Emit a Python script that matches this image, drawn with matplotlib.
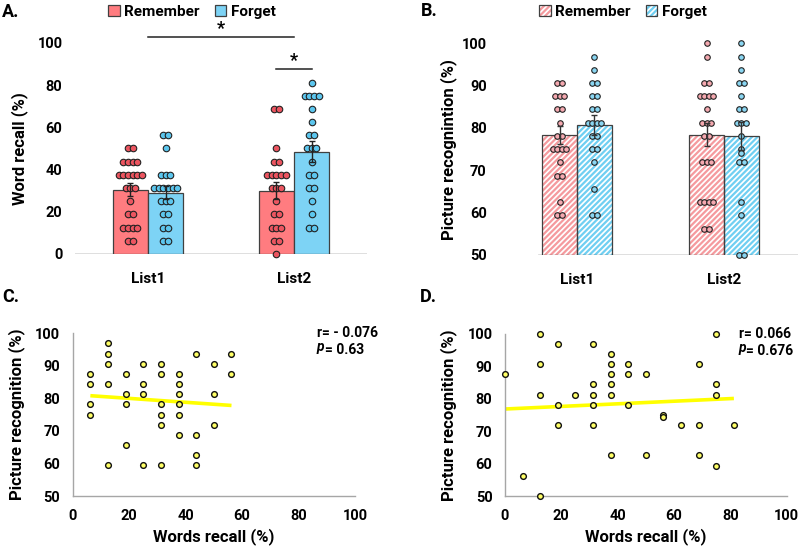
import numpy as np
import matplotlib.pyplot as plt
from matplotlib.patches import Patch

plt.rcParams['font.family'] = ['Roboto', 'DejaVu Sans']
plt.rcParams['font.weight'] = 'bold'
plt.rcParams['axes.labelweight'] = 'bold'
plt.rcParams['hatch.linewidth'] = 1.6

# ---------------- data ----------------
categories = ['List1', 'List2']
groups = ['Remember', 'Forget']

# Panel A: word recall (%)
recall_mean_remember = [30.5, 30.0]
recall_mean_forget = [29.0, 48.5]
recall_sem_remember = [3.0, 4.0]
recall_sem_forget = [3.0, 5.0]

recall_l1_remember = [50, 50, 43.75, 43.75, 43.75, 43.75, 37.5, 37.5, 37.5, 37.5, 37.5, 37.5,
                      31.25, 31.25, 31.25, 25, 18.75, 18.75, 12.5, 12.5, 12.5, 12.5, 6.25, 6.25]
recall_l1_forget = [56.25, 56.25, 50, 37.5, 37.5, 37.5, 31.25, 31.25, 31.25, 31.25, 31.25, 31.25,
                    25, 25, 25, 18.75, 18.75, 12.5, 12.5, 6.25, 6.25]
recall_l2_remember = [68.75, 68.75, 50, 43.75, 43.75, 37.5, 37.5, 37.5, 37.5, 37.5,
                      31.25, 31.25, 31.25, 25, 18.75, 18.75, 12.5, 12.5, 12.5, 6.25, 6.25, 0]
recall_l2_forget = [81.25, 75, 75, 75, 75, 68.75, 62.5, 56.25, 56.25, 50, 50, 50, 43.75,
                    37.5, 37.5, 31.25, 31.25, 25, 18.75, 12.5, 12.5]

# Panel B: picture recognition (%)
recog_mean_remember = [78.3, 78.4]
recog_mean_forget = [80.7, 78.1]
recog_sem_remember = [2.2, 2.7]
recog_sem_forget = [2.4, 3.2]

recog_l1_remember = [90.625, 90.625, 87.5, 87.5, 87.5, 84.375, 84.375, 81.25, 78.125, 78.125,
                     75, 75, 75, 75, 71.875, 68.75, 68.75, 62.5, 59.375, 59.375]
recog_l1_forget = [96.875, 93.75, 90.625, 90.625, 87.5, 87.5, 84.375, 84.375, 81.25, 81.25, 81.25,
                   81.25, 78.125, 78.125, 75, 75, 71.875, 65.625, 59.375, 59.375]
recog_l2_remember = [100, 96.875, 90.625, 90.625, 87.5, 87.5, 87.5, 87.5, 84.375, 81.25, 81.25,
                     81.25, 78.125, 78.125, 71.875, 71.875, 71.875, 62.5, 62.5, 62.5, 62.5,
                     56.25, 56.25]
recog_l2_forget = [100, 96.875, 93.75, 90.625, 90.625, 87.5, 84.375, 84.375, 81.25, 81.25, 81.25,
                   78.125, 75, 74.2, 71.875, 71.875, 62.5, 59.375, 50, 50]

# Panel C: List1 correlation
c_recall = [6.25, 6.25, 6.25, 6.25, 12.5, 12.5, 12.5, 12.5, 12.5, 18.75, 18.75, 18.75, 18.75,
            25, 25, 25, 25, 31.25, 31.25, 31.25, 31.25, 31.25, 31.25, 37.5, 37.5, 37.5, 37.5,
            37.5, 37.5, 43.75, 43.75, 43.75, 43.75, 50, 50, 50, 56.25, 56.25]
c_recog = [87.5, 84.375, 78.125, 75, 96.875, 93.75, 90.625, 84.375, 59.375, 87.5, 81.25, 78.125,
           65.625, 90.625, 84.375, 81.25, 59.375, 90.625, 87.5, 78.125, 75, 71.875, 59.375,
           87.5, 84.375, 81.25, 78.125, 75, 68.75, 93.75, 68.75, 62.5, 59.375, 90.625, 81.25,
           71.875, 93.75, 87.5]
c_trend = [-0.060, 81.2]          # slope, intercept
c_r_text = 'r= - 0.076'
c_p_text = '= 0.63'

# Panel D: List2 correlation
d_recall = [0, 6.25, 12.5, 12.5, 12.5, 12.5, 18.75, 18.75, 18.75, 25, 31.25, 31.25, 31.25, 31.25,
            31.25, 37.5, 37.5, 37.5, 37.5, 37.5, 37.5, 43.75, 43.75, 43.75, 50, 50, 56.25, 56.25,
            62.5, 68.75, 68.75, 68.75, 75, 75, 75, 75, 81.25]
d_recog = [87.5, 56.25, 100, 90.625, 81.25, 50, 96.875, 78.125, 71.875, 81.25, 96.875, 84.375,
           81.25, 78.125, 71.875, 93.75, 90.625, 87.5, 84.375, 81.25, 62.5, 90.625, 87.5, 78.125,
           87.5, 62.5, 75, 74.2, 71.875, 90.625, 71.875, 62.5, 100, 84.375, 81.25, 59.375, 71.875]
d_trend = [0.040, 76.8]           # slope, intercept
d_r_text = 'r= 0.066'
d_p_text = '= 0.676'

# ---------------- style ----------------
RED_BAR = '#FF7C80'
BLUE_BAR = '#7DD3F5'
RED_DOT = '#EC5560'
BLUE_DOT = '#5CC6EE'
RED_HATCH = '#F59A9E'
BLUE_HATCH = '#6FCFF2'
RED_DOT_B = '#F5A9B0'
BLUE_DOT_B = '#8AD6F2'
EDGE = '#404040'
GREY = '#D9D9D9'

W, H = 800, 548
fig = plt.figure(figsize=(8.0, 5.48), dpi=100)


def ax_at(x0, y_top, x1, y_bot):
    return fig.add_axes([x0 / W, 1 - y_bot / H, (x1 - x0) / W, (y_bot - y_top) / H])


def swarm(center, values, step):
    vals = np.asarray(values, dtype=float)
    xs = np.zeros(len(vals))
    for v in np.unique(vals):
        idx = np.where(vals == v)[0]
        n = len(idx)
        xs[idx] = center + (np.arange(n) - (n - 1) / 2) * step
    return xs


x = np.arange(len(categories))
bw = 0.24

# ---------------- Panel A ----------------
axA = ax_at(75, 43, 367, 254)
axA.set_xlim(-0.5, 1.5)
axA.set_ylim(0, 100)
axA.bar(x - bw / 2, recall_mean_remember, bw, color=RED_BAR, edgecolor=EDGE, linewidth=0.9, zorder=2)
axA.bar(x + bw / 2, recall_mean_forget, bw, color=BLUE_BAR, edgecolor=EDGE, linewidth=0.9, zorder=2)
for i, (vr, vf) in enumerate([(recall_l1_remember, recall_l1_forget), (recall_l2_remember, recall_l2_forget)]):
    axA.scatter(swarm(x[i] - bw / 2, vr, 0.032), vr, s=22, color=RED_DOT, edgecolor='#222222',
                linewidth=0.8, zorder=3, clip_on=False)
    axA.scatter(swarm(x[i] + bw / 2, vf, 0.032), vf, s=22, color=BLUE_DOT, edgecolor='#222222',
                linewidth=0.8, zorder=3, clip_on=False)
axA.errorbar(x - bw / 2, recall_mean_remember, yerr=recall_sem_remember, fmt='none', ecolor='#222222',
             elinewidth=1, capsize=2.5, zorder=4)
axA.errorbar(x + bw / 2, recall_mean_forget, yerr=recall_sem_forget, fmt='none', ecolor='#222222',
             elinewidth=1, capsize=2.5, zorder=4)
axA.axhline(0, color=GREY, lw=1.2, zorder=1)
# significance
axA.plot([x[0], x[1]], [102.7, 102.7], color='#222222', lw=1.1, clip_on=False)
axA.text((x[0] + x[1]) / 2, 102.5, '*', ha='center', va='bottom', fontsize=13, fontweight='bold')
axA.plot([x[1] - bw / 2, x[1] + bw / 2], [87.5, 87.5], color='#222222', lw=1.1, clip_on=False)
axA.text(x[1], 87.3, '*', ha='center', va='bottom', fontsize=13, fontweight='bold')
axA.set_yticks([0, 20, 40, 60, 80, 100])
axA.set_xticks(x)
axA.set_xticklabels(categories)
axA.tick_params(axis='both', length=0, labelsize=10.5)
axA.tick_params(axis='y', pad=9)
axA.tick_params(axis='x', pad=13, labelsize=11)
for s in axA.spines.values():
    s.set_visible(False)
axA.set_ylabel('Word recall (%)', fontsize=12)
axA.yaxis.set_label_coords(-0.16, 0.5)

# ---------------- Panel B ----------------
axB = ax_at(503.5, 43.3, 797.5, 255)
axB.set_xlim(-0.5, 1.5)
axB.set_ylim(50, 100)
bwb = 0.238
for off, means, col in [(-bwb / 2, recog_mean_remember, RED_HATCH), (bwb / 2, recog_mean_forget, BLUE_HATCH)]:
    heights = np.array(means) - 50
    axB.bar(x + off, heights, bwb, bottom=50, color='white', edgecolor=col, hatch='//////',
            linewidth=0, zorder=2)
    axB.bar(x + off, heights, bwb, bottom=50, fill=False, edgecolor=EDGE, linewidth=0.9, zorder=2.5)
for i, (vr, vf) in enumerate([(recog_l1_remember, recog_l1_forget), (recog_l2_remember, recog_l2_forget)]):
    axB.scatter(swarm(x[i] - bwb / 2, vr, 0.03), vr, s=16, color=RED_DOT_B, edgecolor='#222222',
                linewidth=0.8, zorder=3, clip_on=False)
    axB.scatter(swarm(x[i] + bwb / 2, vf, 0.03), vf, s=16, color=BLUE_DOT_B, edgecolor='#222222',
                linewidth=0.8, zorder=3, clip_on=False)
axB.errorbar(x - bwb / 2, recog_mean_remember, yerr=recog_sem_remember, fmt='none', ecolor='#333333',
             elinewidth=1, capsize=2.5, zorder=4)
axB.errorbar(x + bwb / 2, recog_mean_forget, yerr=recog_sem_forget, fmt='none', ecolor='#333333',
             elinewidth=1, capsize=2.5, zorder=4)
axB.axhline(50, xmin=0.12, color=GREY, lw=1.2, zorder=1)
axB.set_yticks([50, 60, 70, 80, 90, 100])
axB.set_xticks(x)
axB.set_xticklabels(categories)
axB.tick_params(axis='both', length=0, labelsize=10.5)
axB.tick_params(axis='y', pad=12)
axB.tick_params(axis='x', pad=13, labelsize=11)
for s in axB.spines.values():
    s.set_visible(False)
axB.set_ylabel('Picture recognintion (%)', fontsize=12)
axB.yaxis.set_label_coords(-0.158, 0.5)


# ---------------- Panels C & D ----------------
def scatter_panel(ax, xs, ys, trend, r_text, p_text, stat_x):
    ax.set_xlim(0, 100)
    ax.set_ylim(50, 100)
    ax.scatter(xs, ys, s=17, color='#FFFF66', edgecolor='#111111', linewidth=1.0, zorder=3, clip_on=False)
    xl = np.array([min(xs), max(xs)])
    ax.plot(xl, trend[0] * xl + trend[1], color='#FFFF00', lw=2.6, zorder=2, solid_capstyle='butt')
    ax.set_xticks([0, 20, 40, 60, 80, 100])
    ax.set_yticks([50, 60, 70, 80, 90, 100])
    ax.tick_params(axis='both', length=0, labelsize=10.5)
    ax.tick_params(axis='y', pad=9)
    ax.tick_params(axis='x', pad=9)
    for side in ['top', 'right']:
        ax.spines[side].set_visible(False)
    for side in ['left', 'bottom']:
        ax.spines[side].set_color('#A6A6A6')
        ax.spines[side].set_linewidth(1.0)
    ax.set_xlabel('Words recall (%)', fontsize=12)
    ax.set_ylabel('Picture recognition (%)', fontsize=12)
    ax.xaxis.set_label_coords(0.5, -0.195)
    ax.yaxis.set_label_coords(-0.17, 0.5)
    ax.text(stat_x, 1.0, r_text, transform=ax.transAxes, ha='left', va='center', fontsize=10,
            fontweight='bold')
    pt = ax.text(stat_x, 0.89, 'p', transform=ax.transAxes, ha='left', va='baseline', fontsize=10,
                 fontweight='bold', fontstyle='italic')
    ax.annotate(p_text, xy=(1, 0), xycoords=pt, ha='left', va='baseline', fontsize=10,
                fontweight='bold')


axC = ax_at(72.7, 333.3, 355, 496)
scatter_panel(axC, c_recall, c_recog, c_trend, c_r_text, c_p_text, 0.865)
axD = ax_at(505, 333.7, 786.7, 496)
scatter_panel(axD, d_recall, d_recog, d_trend, d_r_text, d_p_text, 0.83)

# ---------------- legends & labels ----------------
legA = [Patch(facecolor=RED_BAR, edgecolor=EDGE, linewidth=0.9),
        Patch(facecolor=BLUE_BAR, edgecolor=EDGE, linewidth=0.9)]
fig.legend(legA, groups, loc='center', bbox_to_anchor=(192 / W, 1 - 12 / H), ncol=2, frameon=False,
           handlelength=0.75, handleheight=0.75, handletextpad=0.3, columnspacing=1.0, fontsize=11)
legB = [(Patch(facecolor='white', edgecolor=RED_HATCH, hatch='//////', linewidth=0),
         Patch(fill=False, edgecolor=EDGE, linewidth=0.9)),
        (Patch(facecolor='white', edgecolor=BLUE_HATCH, hatch='//////', linewidth=0),
         Patch(fill=False, edgecolor=EDGE, linewidth=0.9))]
fig.legend(legB, groups, loc='center', bbox_to_anchor=(623 / W, 1 - 12 / H), ncol=2, frameon=False,
           handlelength=0.75, handleheight=0.75, handletextpad=0.3, columnspacing=1.0, fontsize=11)

for lab, px, py in [('A.', 2, 12), ('B.', 421, 11), ('C.', 2, 297), ('D.', 420, 297)]:
    fig.text(px / W, 1 - py / H, lab, ha='left', va='center', fontsize=13, fontweight='bold')

fig.savefig('out.png', dpi=100)
